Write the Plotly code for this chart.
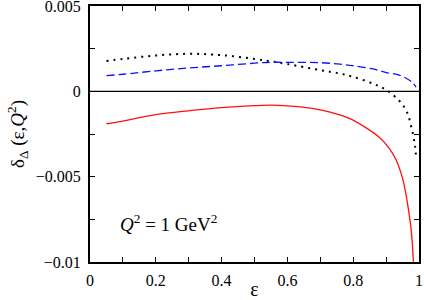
import plotly.graph_objects as go

# Data
eps_red = [0.05, 0.1, 0.2, 0.3, 0.4, 0.5, 0.55, 0.6, 0.67, 0.73, 0.79, 0.84, 0.88,
           0.91, 0.93, 0.95, 0.96, 0.97, 0.975, 0.98, 0.983]
delta_red = [-0.0019, -0.00174, -0.00137, -0.00114, -0.00095, -0.00084, -0.00081,
             -0.00085, -0.00098, -0.00122, -0.0016, -0.00215, -0.0027, -0.00335,
             -0.0040, -0.0051, -0.006, -0.0072, -0.0079, -0.009, -0.0100]

eps_blk = [0.05, 0.1, 0.2, 0.3, 0.4, 0.5, 0.55, 0.6, 0.7, 0.76, 0.8, 0.86, 0.9,
           0.94, 0.963, 0.978, 0.988, 0.991]
delta_blk = [0.00178, 0.0019, 0.0021, 0.0022, 0.00212, 0.0019, 0.00176, 0.0016,
             0.00124, 0.00104, 0.00085, 0.00045, 0.00008, -0.00055,
             -0.0012, -0.0022, -0.0032, -0.0039]

eps_blu = [0.05, 0.1, 0.2, 0.3, 0.4, 0.5, 0.55, 0.6, 0.7, 0.76, 0.8, 0.86, 0.9,
           0.942, 0.978, 0.991]
delta_blu = [0.00092, 0.001, 0.0012, 0.00137, 0.0015, 0.00165, 0.0017, 0.0017,
             0.00168, 0.00159, 0.0015, 0.00131, 0.0011, 0.00094, 0.00055, 0.00025]

x_ticks = [0, 0.2, 0.4, 0.6, 0.8, 1]
x_tick_text = ["0", "0.2", "0.4", "0.6", "0.8", "1"]
y_ticks = [-0.01, -0.005, 0, 0.005]
y_tick_text = ["\u22120.01", "\u22120.005", "0", "0.005"]

FONT = "Liberation Serif"

fig = go.Figure()
fig.add_trace(go.Scatter(x=eps_blk, y=delta_blk, mode="lines",
                         line=dict(color="black", width=2, dash="2px,5px"),
                         line_shape="spline"))
fig.add_trace(go.Scatter(x=eps_blu, y=delta_blu, mode="lines",
                         line=dict(color="#1010ff", width=1.3, dash="8px,4px"),
                         line_shape="spline"))
fig.add_trace(go.Scatter(x=eps_red, y=delta_red, mode="lines",
                         line=dict(color="#ff1010", width=1.3),
                         line_shape="spline"))

fig.add_shape(type="line", xref="x", yref="y", x0=0, x1=1, y0=0, y1=0,
              line=dict(color="black", width=1.2), layer="below")

axis_common = dict(showgrid=False, zeroline=False, showline=True,
                   linecolor="black", linewidth=2, mirror="allticks",
                   ticks="inside", ticklen=5, tickwidth=1.3, tickcolor="black",
                   automargin=False, ticklabeloverflow="allow",
                   tickfont=dict(family=FONT, size=16, color="black"))

fig.update_xaxes(range=[0, 1], tickvals=x_ticks, ticktext=x_tick_text,
                 minor=dict(dtick=0.1, ticks="inside", ticklen=5, tickwidth=1.3,
                            tickcolor="black"),
                 title=dict(text="\u03b5", font=dict(family=FONT, size=20, color="black"),
                            standoff=0),
                 ticklabelstandoff=3,
                 **axis_common)
fig.update_yaxes(range=[-0.01, 0.005], tickvals=y_ticks, ticktext=y_tick_text,
                 minor=dict(tickvals=[-0.0075, -0.0025, 0.0025], ticks="inside",
                            ticklen=5, tickwidth=1.3, tickcolor="black"),
                 title=dict(text="\u03b4<sub>\u0394</sub> (\u03b5,<i>Q</i><sup>2</sup>)",
                            font=dict(family=FONT, size=19, color="black"),
                            standoff=6),
                 ticklabelstandoff=4,
                 **axis_common)

fig.add_annotation(x=0.085, y=-0.0077, xref="x", yref="y", xanchor="left",
                   yanchor="middle", showarrow=False,
                   text="<i>Q</i><sup>2</sup> = 1 GeV<sup>2</sup>",
                   font=dict(family=FONT, size=19, color="black"))

fig.update_layout(width=424, height=300, showlegend=False,
                  font=dict(family=FONT, color="black"),
                  margin=dict(l=90, r=5, t=6, b=38),
                  plot_bgcolor="white", paper_bgcolor="white")

fig.write_html("out.html", config={"displayModeBar": False},
               post_script="document.body.style.margin='0';document.body.style.padding='0';")
